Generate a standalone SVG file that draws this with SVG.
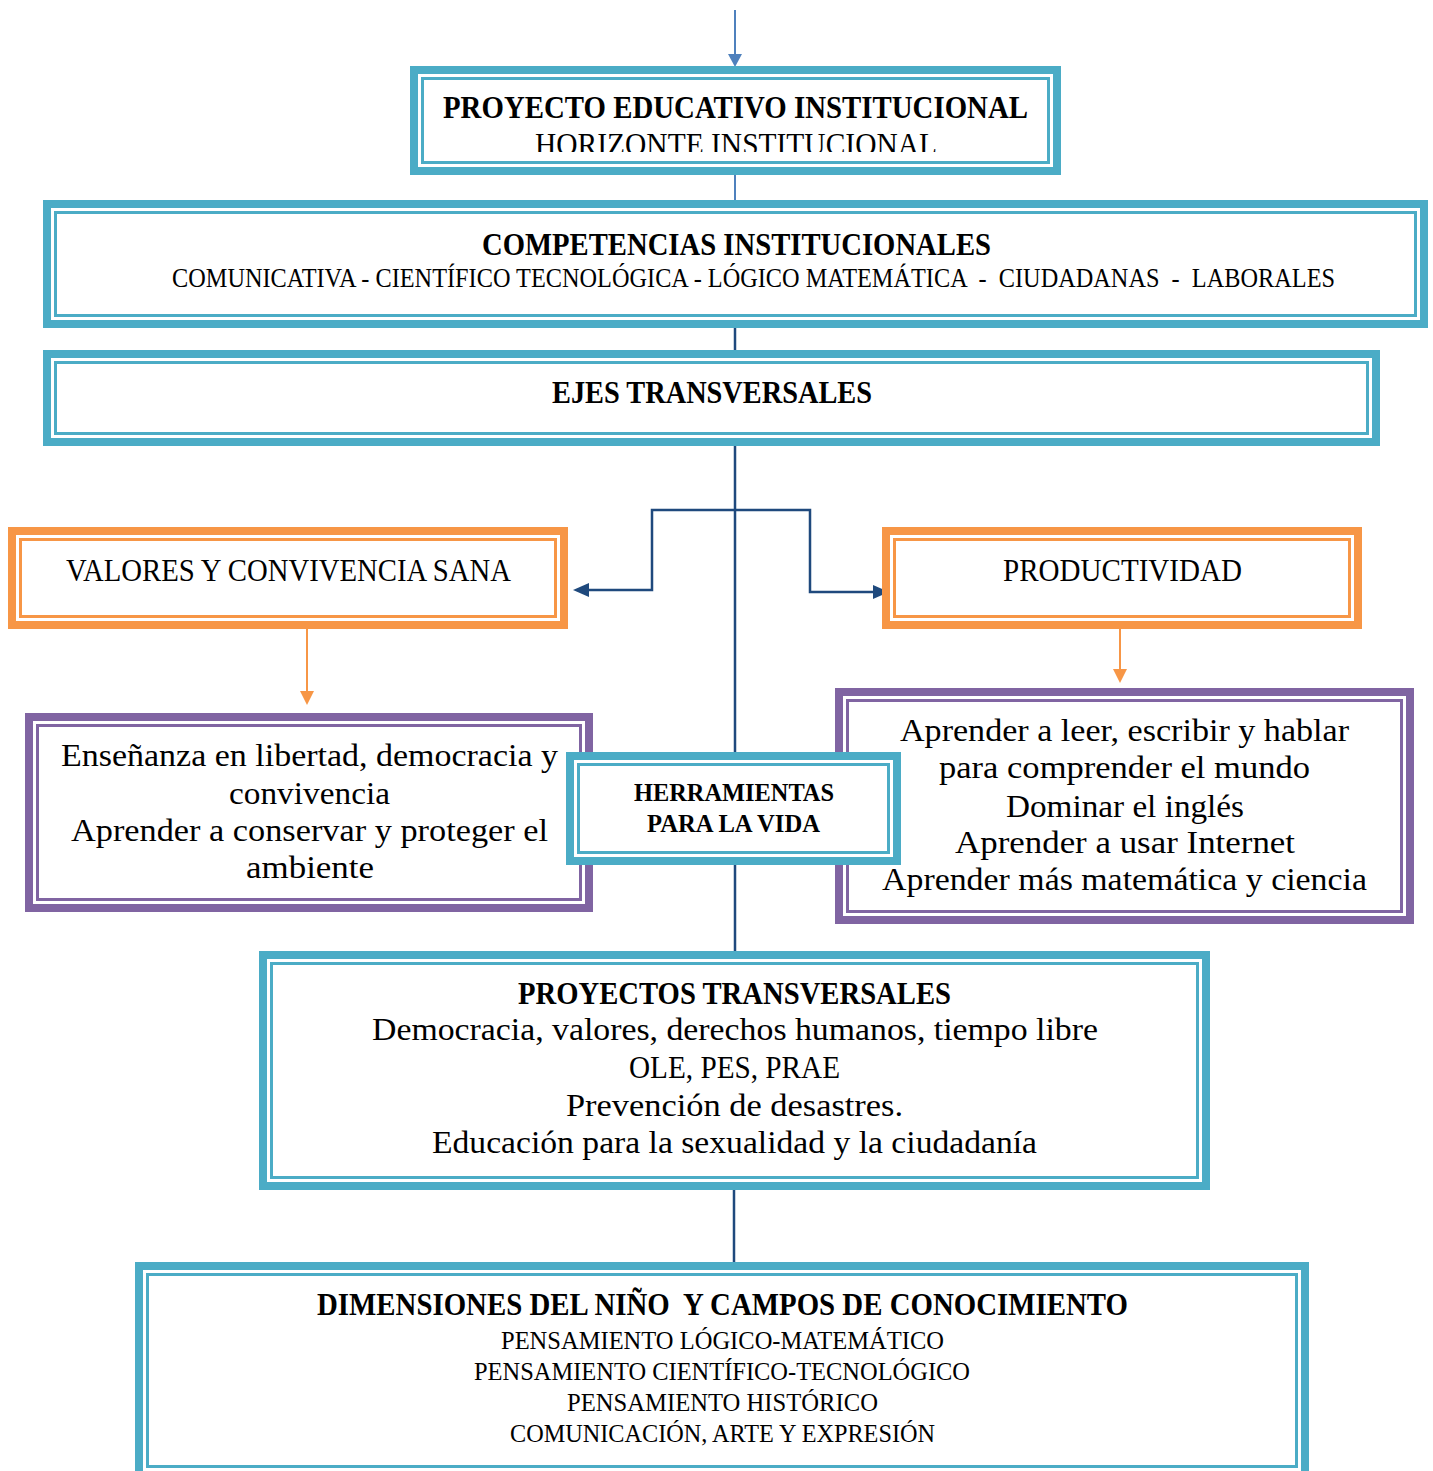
<svg xmlns="http://www.w3.org/2000/svg" width="1433" height="1471" viewBox="0 0 1433 1471">
<style>
.bg{fill:#ffffff}
.tk{fill:none;stroke-width:8}
.tn{fill:none;stroke-width:3}
.teal{stroke:#4BACC6}
.org{stroke:#F79646}
.pur{stroke:#8064A2}
.wf{fill:#ffffff;stroke:none}
text{font-family:"Liberation Serif","Times New Roman",serif;fill:#000000;text-anchor:middle;white-space:pre}
.b{font-weight:bold}
.nav{stroke:#1F497D;stroke-width:2.5;fill:none}
.blu{stroke:#4F81BD;stroke-width:2;fill:none}
.ol{stroke:#F79646;stroke-width:2;fill:none}
</style>
<defs>
<clipPath id="clipPei"><rect x="420" y="80" width="630" height="72"/></clipPath>
</defs>
<rect class="bg" x="0" y="0" width="1433" height="1471"/>

<g id="connectors">
<line class="blu" x1="735" y1="10" x2="735" y2="56"/>
<polygon points="728,54 742,54 735,67" fill="#4F81BD"/>
<line class="blu" x1="735" y1="175" x2="735" y2="200"/>
<line class="nav" x1="735" y1="328" x2="735" y2="350"/>
<line class="nav" x1="735" y1="446" x2="735" y2="952"/>
<line class="nav" x1="734" y1="1190" x2="734" y2="1262"/>
<polyline class="nav" points="588,590 652,590 652,510 810,510 810,592 874,592"/>
<polygon points="573,590 589,583 589,597" fill="#1F497D"/>
<polygon points="889,592 873,585 873,599" fill="#1F497D"/>
<line class="ol" x1="307" y1="629" x2="307" y2="693"/>
<polygon points="300,691 314,691 307,705" fill="#F79646"/>
<line class="ol" x1="1120" y1="629" x2="1120" y2="671"/>
<polygon points="1113,669 1127,669 1120,683" fill="#F79646"/>
</g>

<g id="pei">
<rect class="wf" x="410" y="66" width="651" height="109"/>
<rect class="tk teal" x="414" y="70" width="643" height="101"/>
<rect class="tn teal" x="422.5" y="78.5" width="626" height="84"/>
<text class="b" x="735.5" y="118" font-size="32" textLength="585" lengthAdjust="spacingAndGlyphs">PROYECTO EDUCATIVO INSTITUCIONAL</text>
<text x="736" y="155" font-size="32" textLength="402" lengthAdjust="spacingAndGlyphs" clip-path="url(#clipPei)">HORIZONTE INSTITUCIONAL</text>
</g>

<g id="competencias">
<rect class="wf" x="43" y="200" width="1385" height="128"/>
<rect class="tk teal" x="47" y="204" width="1377" height="120"/>
<rect class="tn teal" x="55.5" y="212.5" width="1360" height="103"/>
<text class="b" x="736.5" y="255" font-size="32" textLength="509" lengthAdjust="spacingAndGlyphs">COMPETENCIAS INSTITUCIONALES</text>
<text transform="translate(753.5,286.5) scale(1,1.15)" x="0" y="0" font-size="24" textLength="1163" lengthAdjust="spacingAndGlyphs">COMUNICATIVA - CIENTÍFICO TECNOLÓGICA - LÓGICO MATEMÁTICA  -  CIUDADANAS  -  LABORALES</text>
</g>

<g id="ejes">
<rect class="wf" x="43" y="350" width="1337" height="96"/>
<rect class="tk teal" x="47" y="354" width="1329" height="88"/>
<rect class="tn teal" x="55.5" y="362.5" width="1312" height="71"/>
<text class="b" x="712" y="403" font-size="32" textLength="320" lengthAdjust="spacingAndGlyphs">EJES TRANSVERSALES</text>
</g>

<g id="valores">
<rect class="wf" x="8" y="527" width="560" height="102"/>
<rect class="tk org" x="12" y="531" width="552" height="94"/>
<rect class="tn org" x="20.5" y="539.5" width="535" height="77"/>
<text x="288.5" y="581" font-size="32" textLength="445" lengthAdjust="spacingAndGlyphs">VALORES Y CONVIVENCIA SANA</text>
</g>

<g id="productividad">
<rect class="wf" x="882" y="527" width="480" height="102"/>
<rect class="tk org" x="886" y="531" width="472" height="94"/>
<rect class="tn org" x="894.5" y="539.5" width="455" height="77"/>
<text x="1122.5" y="581" font-size="32" textLength="239" lengthAdjust="spacingAndGlyphs">PRODUCTIVIDAD</text>
</g>

<g id="valores-detalle">
<rect class="wf" x="25" y="713" width="568" height="199"/>
<rect class="tk pur" x="29" y="717" width="560" height="191"/>
<rect class="tn pur" x="37.5" y="725.5" width="543" height="174"/>
<text x="309.5" y="766" font-size="32" textLength="497" lengthAdjust="spacingAndGlyphs">Enseñanza en libertad, democracia y</text>
<text x="309.5" y="804" font-size="32" textLength="161" lengthAdjust="spacingAndGlyphs">convivencia</text>
<text x="309.5" y="841" font-size="32" textLength="477" lengthAdjust="spacingAndGlyphs">Aprender a conservar y proteger el</text>
<text x="310" y="878" font-size="32" textLength="128" lengthAdjust="spacingAndGlyphs">ambiente</text>
</g>

<g id="productividad-detalle">
<rect class="wf" x="835" y="688" width="579" height="236"/>
<rect class="tk pur" x="839" y="692" width="571" height="228"/>
<rect class="tn pur" x="847.5" y="700.5" width="554" height="211"/>
<text x="1124.5" y="741" font-size="32" textLength="449" lengthAdjust="spacingAndGlyphs">Aprender a leer, escribir y hablar</text>
<text x="1124.5" y="778" font-size="32" textLength="371" lengthAdjust="spacingAndGlyphs">para comprender el mundo</text>
<text x="1125" y="817" font-size="32" textLength="238" lengthAdjust="spacingAndGlyphs">Dominar el inglés</text>
<text x="1125" y="853" font-size="32" textLength="340" lengthAdjust="spacingAndGlyphs">Aprender a usar Internet</text>
<text x="1124.5" y="890" font-size="32" textLength="485" lengthAdjust="spacingAndGlyphs">Aprender más matemática y ciencia</text>
</g>

<g id="herramientas">
<rect class="wf" x="566" y="752" width="335" height="113"/>
<rect class="tk teal" x="570" y="756" width="327" height="105"/>
<rect class="tn teal" x="578.5" y="764.5" width="310" height="88"/>
<text class="b" x="734" y="801" font-size="25" textLength="200" lengthAdjust="spacingAndGlyphs">HERRAMIENTAS</text>
<text class="b" x="733.5" y="832" font-size="25" textLength="173" lengthAdjust="spacingAndGlyphs">PARA LA VIDA</text>
</g>

<g id="proyectos">
<rect class="wf" x="259" y="951" width="951" height="239"/>
<rect class="tk teal" x="263" y="955" width="943" height="231"/>
<rect class="tn teal" x="271.5" y="963.5" width="926" height="214"/>
<text class="b" x="734.5" y="1004" font-size="32" textLength="433" lengthAdjust="spacingAndGlyphs">PROYECTOS TRANSVERSALES</text>
<text x="735" y="1040" font-size="32" textLength="726" lengthAdjust="spacingAndGlyphs">Democracia, valores, derechos humanos, tiempo libre</text>
<text x="734.5" y="1078" font-size="32" textLength="211" lengthAdjust="spacingAndGlyphs">OLE, PES, PRAE</text>
<text x="734.5" y="1116" font-size="32" textLength="337" lengthAdjust="spacingAndGlyphs">Prevención de desastres.</text>
<text x="734.5" y="1153" font-size="32" textLength="605" lengthAdjust="spacingAndGlyphs">Educación para la sexualidad y la ciudadanía</text>
</g>

<g id="dimensiones">
<rect class="wf" x="135" y="1262" width="1174" height="217"/>
<rect class="tk teal" x="139" y="1266" width="1166" height="209"/>
<rect class="tn teal" x="147.5" y="1274.5" width="1149" height="192"/>
<text class="b" x="722.5" y="1315" font-size="32" textLength="811" lengthAdjust="spacingAndGlyphs">DIMENSIONES DEL NIÑO  Y CAMPOS DE CONOCIMIENTO</text>
<text x="722.5" y="1349" font-size="25" textLength="443" lengthAdjust="spacingAndGlyphs">PENSAMIENTO LÓGICO-MATEMÁTICO</text>
<text x="722" y="1380" font-size="25" textLength="496" lengthAdjust="spacingAndGlyphs">PENSAMIENTO CIENTÍFICO-TECNOLÓGICO</text>
<text x="722.5" y="1411" font-size="25" textLength="311" lengthAdjust="spacingAndGlyphs">PENSAMIENTO HISTÓRICO</text>
<text x="722.5" y="1442" font-size="25" textLength="425" lengthAdjust="spacingAndGlyphs">COMUNICACIÓN, ARTE Y EXPRESIÓN</text>
</g>
</svg>
